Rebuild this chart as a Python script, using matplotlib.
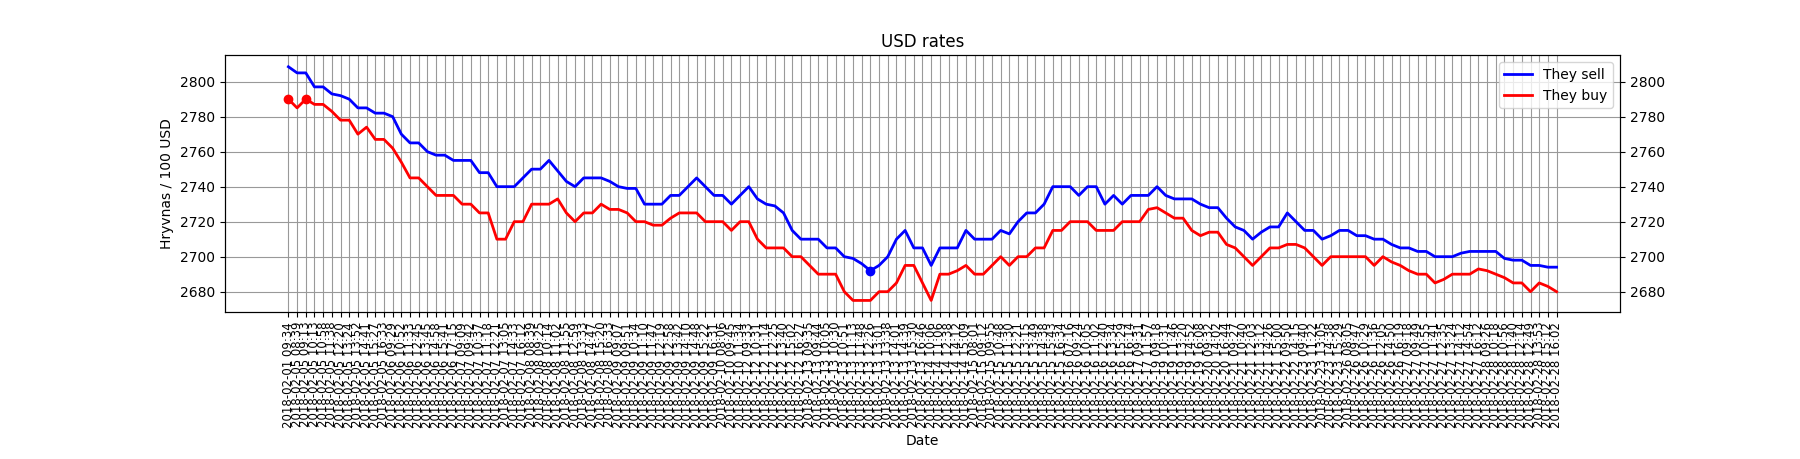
import matplotlib
matplotlib.use("Agg")
import matplotlib.pyplot as plt
import numpy as np

# курс продажу / купівлі (грн за 100 USD)
sell = [2808.5, 2805, 2805, 2797, 2797, 2793, 2792, 2790, 2785, 2785,
        2782, 2782, 2780, 2770, 2765, 2765, 2760, 2758, 2758, 2755,
        2755, 2755, 2748, 2748, 2740, 2740, 2740, 2745, 2750, 2750,
        2755, 2749, 2743, 2740, 2745, 2745, 2745, 2743, 2740, 2739,
        2739, 2730, 2730, 2730, 2735, 2735, 2740, 2745, 2740, 2735,
        2735, 2730, 2735, 2740, 2733, 2730, 2729, 2725, 2715, 2710,
        2710, 2710, 2705, 2705, 2700, 2699, 2696, 2692, 2695, 2700,
        2710, 2715, 2705, 2705, 2695, 2705, 2705, 2705, 2715, 2710,
        2710, 2710, 2715, 2713, 2720, 2725, 2725, 2730, 2740, 2740,
        2740, 2735, 2740, 2740, 2730, 2735, 2730, 2735, 2735, 2735,
        2740, 2735, 2733, 2733, 2733, 2730, 2728, 2728, 2722, 2717,
        2715, 2710, 2714, 2717, 2717, 2725, 2720, 2715, 2715, 2710,
        2712, 2715, 2715, 2712, 2712, 2710, 2710, 2707, 2705, 2705,
        2703, 2703, 2700, 2700, 2700, 2702, 2703, 2703, 2703, 2703,
        2699, 2698, 2698, 2695, 2695, 2694, 2694]

buy = [2790, 2785, 2790, 2787, 2787, 2783, 2778, 2778, 2770, 2774,
       2767, 2767, 2762, 2754, 2745, 2745, 2740, 2735, 2735, 2735,
       2730, 2730, 2725, 2725, 2710, 2710, 2720, 2720, 2730, 2730,
       2730, 2733, 2725, 2720, 2725, 2725, 2730, 2727, 2727, 2725,
       2720, 2720, 2718, 2718, 2722, 2725, 2725, 2725, 2720, 2720,
       2720, 2715, 2720, 2720, 2710, 2705, 2705, 2705, 2700, 2700,
       2695, 2690, 2690, 2690, 2680, 2675, 2675, 2675, 2680, 2680,
       2685, 2695, 2695, 2685, 2675, 2690, 2690, 2692, 2695, 2690,
       2690, 2695, 2700, 2695, 2700, 2700, 2705, 2705, 2715, 2715,
       2720, 2720, 2720, 2715, 2715, 2715, 2720, 2720, 2720, 2727,
       2728, 2725, 2722, 2722, 2715, 2712, 2714, 2714, 2707, 2705,
       2700, 2695, 2700, 2705, 2705, 2707, 2707, 2705, 2700, 2695,
       2700, 2700, 2700, 2700, 2700, 2695, 2700, 2697, 2695, 2692,
       2690, 2690, 2685, 2687, 2690, 2690, 2690, 2693, 2692, 2690,
       2688, 2685, 2685, 2680, 2685, 2683, 2680]

dates = [
    "2018-02-01 09:34",
    "2018-02-05 08:39", "2018-02-05 09:13", "2018-02-05 10:13", "2018-02-05 10:58",
    "2018-02-05 11:38", "2018-02-05 12:20", "2018-02-05 13:24", "2018-02-05 13:52",
    "2018-02-05 14:41", "2018-02-05 15:27", "2018-02-05 16:33",
    "2018-02-06 09:29", "2018-02-06 10:52", "2018-02-06 11:33", "2018-02-06 12:45",
    "2018-02-06 13:45", "2018-02-06 14:58", "2018-02-06 15:41", "2018-02-06 17:15",
    "2018-02-07 09:09", "2018-02-07 09:42", "2018-02-07 10:37", "2018-02-07 11:18",
    "2018-02-07 12:21", "2018-02-07 13:05", "2018-02-07 14:33", "2018-02-07 16:12",
    "2018-02-08 08:39", "2018-02-08 09:25", "2018-02-08 10:14", "2018-02-08 11:02",
    "2018-02-08 11:55", "2018-02-08 12:59", "2018-02-08 13:33", "2018-02-08 14:47",
    "2018-02-08 15:20", "2018-02-08 16:33",
    "2018-02-09 09:07", "2018-02-09 09:51", "2018-02-09 10:34", "2018-02-09 11:10",
    "2018-02-09 11:47", "2018-02-09 12:19", "2018-02-09 12:58", "2018-02-09 13:42",
    "2018-02-09 14:10", "2018-02-09 14:48", "2018-02-09 15:22", "2018-02-09 16:31",
    "2018-02-10 08:06", "2018-02-10 09:45", "2018-02-10 11:34",
    "2018-02-12 09:33", "2018-02-12 10:31", "2018-02-12 11:14", "2018-02-12 12:25",
    "2018-02-12 13:40", "2018-02-12 15:02", "2018-02-12 16:27",
    "2018-02-13 09:35", "2018-02-13 09:44", "2018-02-13 10:05", "2018-02-13 10:30",
    "2018-02-13 10:51", "2018-02-13 11:13", "2018-02-13 11:48", "2018-02-13 12:26",
    "2018-02-13 13:01", "2018-02-13 13:38", "2018-02-13 14:01", "2018-02-13 14:39",
    "2018-02-13 15:30", "2018-02-13 16:46",
    "2018-02-14 10:06", "2018-02-14 11:06", "2018-02-14 12:38", "2018-02-14 14:12",
    "2018-02-14 15:09",
    "2018-02-15 08:01", "2018-02-15 09:12", "2018-02-15 09:55", "2018-02-15 10:48",
    "2018-02-15 11:30", "2018-02-15 12:21", "2018-02-15 13:15", "2018-02-15 13:49",
    "2018-02-15 14:38", "2018-02-15 15:43", "2018-02-15 16:34",
    "2018-02-16 07:16", "2018-02-16 09:24", "2018-02-16 10:05", "2018-02-16 11:02",
    "2018-02-16 12:40", "2018-02-16 13:34", "2018-02-16 15:29", "2018-02-16 16:14",
    "2018-02-17 09:31", "2018-02-17 11:57",
    "2018-02-19 09:18", "2018-02-19 10:31", "2018-02-19 11:46", "2018-02-19 13:20",
    "2018-02-19 14:52", "2018-02-19 16:08",
    "2018-02-20 09:32", "2018-02-20 14:02", "2018-02-20 16:44",
    "2018-02-21 09:27", "2018-02-21 10:40", "2018-02-21 12:03", "2018-02-21 13:12",
    "2018-02-21 14:26", "2018-02-21 15:00",
    "2018-02-22 09:50", "2018-02-22 14:15",
    "2018-02-23 09:40", "2018-02-23 11:22", "2018-02-23 13:05", "2018-02-23 14:38",
    "2018-02-23 15:29",
    "2018-02-26 08:05", "2018-02-26 09:47", "2018-02-26 10:29", "2018-02-26 11:36",
    "2018-02-26 12:05", "2018-02-26 14:50", "2018-02-26 16:19",
    "2018-02-27 09:18", "2018-02-27 09:49", "2018-02-27 10:55", "2018-02-27 11:41",
    "2018-02-27 12:35", "2018-02-27 13:24", "2018-02-27 14:12", "2018-02-27 14:54",
    "2018-02-27 16:12",
    "2018-02-28 09:26", "2018-02-28 10:18", "2018-02-28 10:56", "2018-02-28 11:40",
    "2018-02-28 12:14", "2018-02-28 12:49", "2018-02-28 13:53", "2018-02-28 15:12",
    "2018-02-28 16:02",
]

x = np.arange(len(dates))
sell = np.array(sell)
buy = np.array(buy)

fig, ax = plt.subplots(figsize=(18, 4.59), dpi=100)
fig.subplots_adjust(bottom=0.32)

ax.plot(x, sell, color="blue", lw=2, label="They sell")
ax.plot(x, buy, color="red", lw=2, label="They buy")

# найкращі курси: мінімум продажу, максимум купівлі
best_sell = np.where(sell == sell.min())[0]
best_buy = np.where(buy == buy.max())[0]
ax.plot(best_sell, sell[best_sell], "bo")
ax.plot(best_buy, buy[best_buy], "ro")

ax.set_xticks(x)
ax.set_xticklabels(dates, rotation=90, fontsize=8.5)
ax.grid(True, color="#999999", lw=0.8)
ax.set_title("USD rates")
ax.set_xlabel("Date")
ax.set_ylabel("Hryvnas / 100 USD")
ax.legend(loc="upper right")

ax2 = ax.twinx()
ax2.set_ylim(ax.get_ylim())

fig.savefig("out.png", dpi=100)
